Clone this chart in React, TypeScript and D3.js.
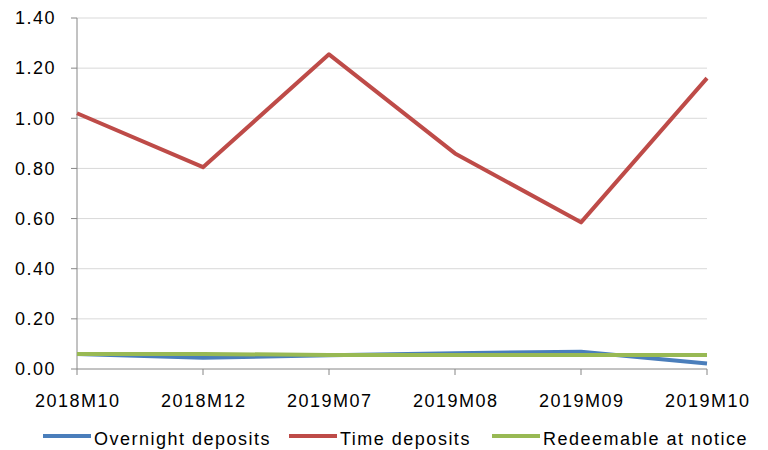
import React from "react";
import * as d3 from "d3";

const categories = ["2018M10", "2018M12", "2019M07", "2019M08", "2019M09", "2019M10"];
const overnight = [0.06, 0.045, 0.055, 0.063, 0.069, 0.022];
const timeDeposits = [1.02, 0.805, 1.255, 0.86, 0.585, 1.16];
const redeemable = [0.06, 0.06, 0.056, 0.056, 0.056, 0.056];
const yTicks = [0, 0.2, 0.4, 0.6, 0.8, 1.0, 1.2, 1.4];
const seriesNames = ["Overnight deposits", "Time deposits", "Redeemable at notice"];
const colors = ["#4a7ebb", "#be4b48", "#98b954"];

export default function App() {
  const W = 768, H = 450;
  const left = 77, right = 707, top = 18, bottom = 369;
  const x = d3.scalePoint<string>().domain(categories).range([left, right]);
  const y = d3.scaleLinear().domain([0, 1.4]).range([bottom, top]);
  const line = d3.line<number>().x((_, i) => x(categories[i])!).y(d => y(d));
  const series = [overnight, timeDeposits, redeemable];
  const font = "Liberation Sans, Arial, sans-serif";
  const fs = 18;
  const ls = 1.5;
  const legendX = [43, 289, 492];
  return (
    <svg width={W} height={H} style={{ position: "absolute", left: 0, top: 0 }}>
      <rect width={W} height={H} fill="#fff" />
      {yTicks.map(t => (
        <g key={t}>
          {t > 0 && <line x1={left} x2={right} y1={y(t)} y2={y(t)} stroke="#d9d9d9" strokeWidth={1} />}
          <line x1={left - 6} x2={left} y1={y(t)} y2={y(t)} stroke="#868686" />
          <text x={56} y={y(t)} dy="0.35em" textAnchor="end" fontFamily={font} fontSize={fs} letterSpacing={ls} fill="#000">
            {t.toFixed(2)}
          </text>
        </g>
      ))}
      <line x1={left} x2={left} y1={top} y2={bottom} stroke="#868686" />
      <line x1={left} x2={right} y1={bottom} y2={bottom} stroke="#868686" />
      {categories.map(c => (
        <g key={c}>
          <line x1={x(c)} x2={x(c)} y1={bottom} y2={bottom + 6} stroke="#868686" />
          <text x={x(c)! + ls / 2} y={407} textAnchor="middle" fontFamily={font} fontSize={fs} letterSpacing={ls} fill="#000">
            {c}
          </text>
        </g>
      ))}
      {series.map((s, i) => (
        <path key={i} d={line(s)!} fill="none" stroke={colors[i]} strokeWidth={4} strokeLinejoin="round" />
      ))}
      {seriesNames.map((n, i) => (
        <g key={n}>
          <line x1={legendX[i]} x2={legendX[i] + 48} y1={436} y2={436} stroke={colors[i]} strokeWidth={4} />
          <text x={legendX[i] + 51} y={445} fontFamily={font} fontSize={fs} letterSpacing={ls} fill="#000">
            {n}
          </text>
        </g>
      ))}
    </svg>
  );
}
